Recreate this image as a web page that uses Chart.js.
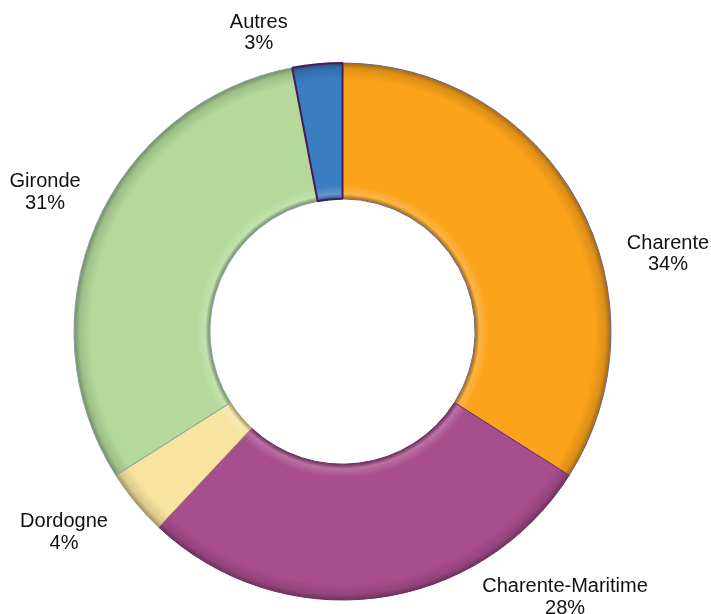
<!DOCTYPE html>
<html lang="fr">
<head>
<meta charset="utf-8">
<title>Répartition par département</title>
<script src="https://cdn.jsdelivr.net/npm/chart.js@4.4.0/dist/chart.umd.min.js"></script>
<style>
    html, body { margin: 0; padding: 0; background: #fff; }
    canvas { display: block; }
</style>
</head>
<body>
<canvas id="donut" width="711" height="614"></canvas>
<script>
// données
const departements = ['Charente', 'Charente-Maritime', 'Dordogne', 'Gironde', 'Autres'];
const parts = [34, 28, 4, 31, 3];
const pctLabels = ['34%', '28%', '4%', '31%', '3%'];

const sliceColors = ['#FBA31A', '#A84D8D', '#F8E3A0', '#B4D99A', '#3A7DC1'];
const edgeColors = ['#6A6496', '#6A2E63', '#A59A72', '#86A4A8', '#4B1A5C'];

const CUTOUT = 0.494;

// décalage des étiquettes par rapport au milieu de chaque part (degrés, px au-delà du rayon)
const labelPlacement = [
    { da: 15.1, dr: 66.5 },
    { da: -32.9, dr: 77 },
    { da: 4, dr: 74 },
    { da: 1.9, dr: 60.5 },
    { da: -10.2, dr: 43 }
];

function shade(hex, f) {
    const n = parseInt(hex.slice(1), 16);
    let r = (n >> 16) & 255, g = (n >> 8) & 255, b = n & 255;
    if (f < 0) {
        r = Math.round(r * (1 + f)); g = Math.round(g * (1 + f)); b = Math.round(b * (1 + f));
    } else {
        r = Math.round(r + (255 - r) * f); g = Math.round(g + (255 - g) * f); b = Math.round(b + (255 - b) * f);
    }
    return `rgb(${r}, ${g}, ${b})`;
}

// léger effet de biseau : assombri sur les bords intérieur / extérieur
function bevelFill(context) {
    const chart = context.chart;
    const base = sliceColors[context.dataIndex];
    const area = chart.chartArea;
    if (!area) return base;
    const x = (area.left + area.right) / 2;
    const y = (area.top + area.bottom) / 2;
    const outer = (Math.min(area.right - area.left, area.bottom - area.top) - 2) / 2;
    const inner = outer * CUTOUT;
    const g = chart.ctx.createRadialGradient(x, y, inner, x, y, outer);
    g.addColorStop(0, shade(base, -0.35));
    g.addColorStop(0.035, shade(base, 0.2));
    g.addColorStop(0.1, base);
    g.addColorStop(0.88, base);
    g.addColorStop(0.96, shade(base, -0.12));
    g.addColorStop(1, shade(base, -0.35));
    return g;
}

const outsideLabels = {
    id: 'outsideLabels',
    afterDatasetsDraw(chart) {
        const ctx = chart.ctx;
        const meta = chart.getDatasetMeta(0);
        ctx.save();
        ctx.font = '20px "Liberation Sans", Arial, sans-serif';
        ctx.fillStyle = '#111';
        ctx.textAlign = 'center';
        ctx.textBaseline = 'alphabetic';
        meta.data.forEach((arc, i) => {
            const p = arc.getProps(['x', 'y', 'startAngle', 'endAngle', 'outerRadius'], true);
            const place = labelPlacement[i];
            const a = (p.startAngle + p.endAngle) / 2 + place.da * Math.PI / 180;
            const r = p.outerRadius + place.dr;
            const lx = p.x + Math.cos(a) * r;
            const ly = p.y + Math.sin(a) * r;
            ctx.fillText(departements[i], lx, ly - 3.5);
            ctx.fillText(pctLabels[i], lx, ly + 18);
        });
        ctx.restore();
    }
};

const chart = new Chart(document.getElementById('donut').getContext('2d'), {
    type: 'doughnut',
    data: {
        labels: departements,
        datasets: [{
            data: parts,
            backgroundColor: bevelFill,
            borderColor: edgeColors,
            borderWidth: [1, 1, 1, 1, 2],
            hoverOffset: 0,
            hoverBorderWidth: 0
        }]
    },
    options: {
        responsive: false,
        animation: false,
        cutout: (CUTOUT * 100) + '%',
        rotation: 0,
        layout: { padding: { left: 73, right: 99, top: 62, bottom: 13 } },
        plugins: {
            legend: { display: false },
            tooltip: { enabled: false }
        }
    },
    plugins: [outsideLabels]
});
</script>
</body>
</html>
